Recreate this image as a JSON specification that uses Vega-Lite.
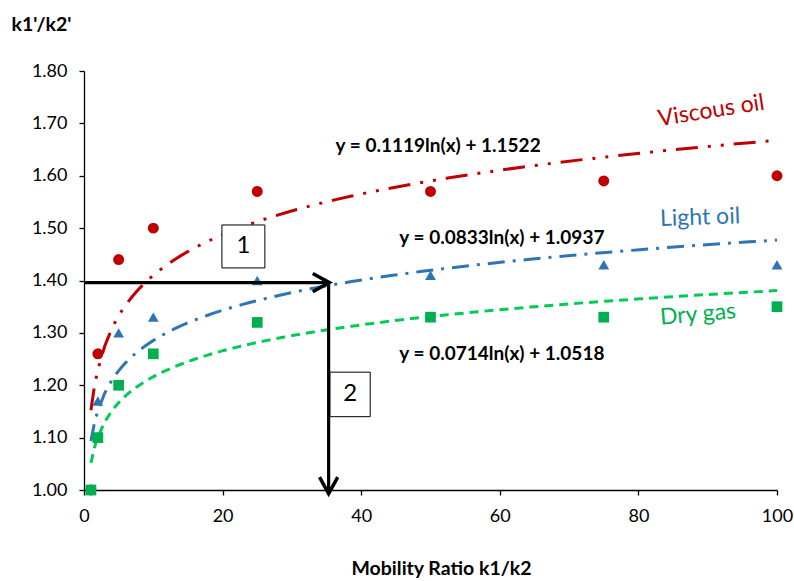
{
  "$schema": "https://vega.github.io/schema/vega-lite/v6.json",
  "width": 693,
  "height": 419,
  "autosize": "none",
  "padding": {"left": 84, "top": 71, "right": 17, "bottom": 91},
  "background": "white",
  "config": {
    "view": {"stroke": null},
    "font": "Lato",
    "axis": {"grid": false, "domainColor": "#000000", "tickColor": "#000000", "labelColor": "#000000", "titleColor": "#000000", "labelFont": "Lato", "titleFont": "Lato", "labelFontSize": 18, "titleFontSize": 19.5, "titleFontWeight": "bold", "tickSize": 5, "domainWidth": 1.3, "tickWidth": 1.3, "labelFlush": false}
  },
  "datasets": {
    "pts": [
      {"series": "Viscous oil", "x": 1, "y": 1.00},
      {"series": "Viscous oil", "x": 2, "y": 1.26},
      {"series": "Viscous oil", "x": 5, "y": 1.44},
      {"series": "Viscous oil", "x": 10, "y": 1.50},
      {"series": "Viscous oil", "x": 25, "y": 1.57},
      {"series": "Viscous oil", "x": 50, "y": 1.57},
      {"series": "Viscous oil", "x": 75, "y": 1.59},
      {"series": "Viscous oil", "x": 100, "y": 1.60},
      {"series": "Light oil", "x": 1, "y": 1.00},
      {"series": "Light oil", "x": 2, "y": 1.17},
      {"series": "Light oil", "x": 5, "y": 1.30},
      {"series": "Light oil", "x": 10, "y": 1.33},
      {"series": "Light oil", "x": 25, "y": 1.40},
      {"series": "Light oil", "x": 50, "y": 1.41},
      {"series": "Light oil", "x": 75, "y": 1.43},
      {"series": "Light oil", "x": 100, "y": 1.43},
      {"series": "Dry gas", "x": 1, "y": 1.00},
      {"series": "Dry gas", "x": 2, "y": 1.10},
      {"series": "Dry gas", "x": 5, "y": 1.20},
      {"series": "Dry gas", "x": 10, "y": 1.26},
      {"series": "Dry gas", "x": 25, "y": 1.32},
      {"series": "Dry gas", "x": 50, "y": 1.33},
      {"series": "Dry gas", "x": 75, "y": 1.33},
      {"series": "Dry gas", "x": 100, "y": 1.35}
    ],
    "arrows": [
      {"x": 0, "x2": 35.3, "y": 1.396, "y2": 1.396},
      {"x": 35.3, "x2": 35.3, "y": 1.396, "y2": 0.995}
    ],
    "boxes": [
      {"label": "1", "x": 19.9, "x2": 26.1, "y": 1.506, "y2": 1.424, "cx": 23.0, "cy": 1.465},
      {"label": "2", "x": 35.5, "x2": 41.3, "y": 1.225, "y2": 1.140, "cx": 38.4, "cy": 1.1825}
    ],
    "eqs": [
      {"t": "y = 0.1119ln(x) + 1.1522", "x": 51.1, "y": 1.657},
      {"t": "y = 0.0833ln(x) + 1.0937", "x": 60.3, "y": 1.482},
      {"t": "y = 0.0714ln(x) + 1.0518", "x": 60.3, "y": 1.260}
    ],
    "labels": [
      {"t": "Viscous oil", "x": 90.5, "y": 1.724, "c": "#C00000", "a": -9},
      {"t": "Light oil", "x": 88.9, "y": 1.520, "c": "#2E75B6", "a": -2},
      {"t": "Dry gas", "x": 88.6, "y": 1.335, "c": "#00B050", "a": -5}
    ]
  },
  "layer": [
    {
      "data": {"name": "pts"},
      "transform": [{"regression": "y", "on": "x", "groupby": ["series"], "method": "log"}],
      "mark": {"type": "line", "strokeWidth": 3, "clip": true},
      "encoding": {
        "x": {"field": "x", "type": "quantitative", "scale": {"domain": [0, 100]},
              "axis": {"values": [0, 20, 40, 60, 80, 100], "title": "Mobility Ratio k1/k2", "titleX": 357, "titleY": 84, "titleBaseline": "alphabetic", "labelPadding": 12}},
        "y": {"field": "y", "type": "quantitative", "scale": {"domain": [1, 1.8]},
              "axis": {"values": [1.0, 1.1, 1.2, 1.3, 1.4, 1.5, 1.6, 1.7, 1.8], "format": ".2f", "title": "k1'/k2'", "titleAngle": 0, "titleAlign": "left", "titleX": -73, "titleY": -41, "titleBaseline": "alphabetic", "labelPadding": 12}},
        "color": {"field": "series", "type": "nominal", "scale": {"domain": ["Viscous oil", "Light oil", "Dry gas"], "range": ["#C00000", "#2E75B6", "#00CC55"]}, "legend": null},
        "strokeDash": {"field": "series", "type": "nominal", "scale": {"domain": ["Viscous oil", "Light oil", "Dry gas"], "range": [[22, 10, 3, 10, 3, 10], [17, 8, 3, 8], [9, 6]]}, "legend": null},
        "detail": {"field": "series"}
      }
    },
    {
      "data": {"name": "pts"},
      "mark": {"type": "point", "filled": true, "opacity": 1},
      "encoding": {
        "x": {"field": "x", "type": "quantitative"},
        "y": {"field": "y", "type": "quantitative"},
        "fill": {"field": "series", "type": "nominal", "scale": {"domain": ["Viscous oil", "Light oil", "Dry gas"], "range": ["#C00000", "#2E75B6", "#00B050"]}, "legend": null},
        "shape": {"field": "series", "type": "nominal", "scale": {"domain": ["Viscous oil", "Light oil", "Dry gas"], "range": ["circle", "triangle-up", "square"]}, "legend": null},
        "size": {"field": "series", "type": "nominal", "scale": {"domain": ["Viscous oil", "Light oil", "Dry gas"], "range": [120, 115, 170]}, "legend": null}
      }
    },
    {
      "data": {"name": "arrows"},
      "mark": {"type": "rule", "color": "#000000", "strokeWidth": 3.2},
      "encoding": {
        "x": {"field": "x", "type": "quantitative"},
        "x2": {"field": "x2"},
        "y": {"field": "y", "type": "quantitative"},
        "y2": {"field": "y2"}
      }
    },
    {
      "data": {"values": [{"x": 35.4, "y": 1.396}]},
      "mark": {"type": "point", "shape": "M -1 -0.55 L 0 0 L -1 0.55", "filled": false, "stroke": "#000000", "strokeWidth": 3.5, "size": 1100, "opacity": 1},
      "encoding": {
        "x": {"field": "x", "type": "quantitative"},
        "y": {"field": "y", "type": "quantitative"}
      }
    },
    {
      "data": {"values": [{"x": 35.3, "y": 0.993}]},
      "mark": {"type": "point", "shape": "M -0.55 -1 L 0 0 L 0.55 -1", "filled": false, "stroke": "#000000", "strokeWidth": 3.5, "size": 1100, "opacity": 1},
      "encoding": {
        "x": {"field": "x", "type": "quantitative"},
        "y": {"field": "y", "type": "quantitative"}
      }
    },
    {
      "data": {"name": "boxes"},
      "mark": {"type": "rect", "fill": "white", "stroke": "#000000", "strokeWidth": 1},
      "encoding": {
        "x": {"field": "x", "type": "quantitative"},
        "x2": {"field": "x2"},
        "y": {"field": "y", "type": "quantitative"},
        "y2": {"field": "y2"}
      }
    },
    {
      "data": {"name": "boxes"},
      "mark": {"type": "text", "fontSize": 24, "color": "#000000", "baseline": "middle", "align": "center"},
      "encoding": {
        "x": {"field": "cx", "type": "quantitative"},
        "y": {"field": "cy", "type": "quantitative"},
        "text": {"field": "label"}
      }
    },
    {
      "data": {"name": "eqs"},
      "mark": {"type": "text", "fontSize": 19, "fontWeight": "bold", "color": "#000000", "baseline": "middle", "align": "center"},
      "encoding": {
        "x": {"field": "x", "type": "quantitative"},
        "y": {"field": "y", "type": "quantitative"},
        "text": {"field": "t"}
      }
    },
    {
      "data": {"name": "labels"},
      "mark": {"type": "text", "fontSize": 23, "baseline": "middle", "align": "center"},
      "encoding": {
        "x": {"field": "x", "type": "quantitative"},
        "y": {"field": "y", "type": "quantitative"},
        "text": {"field": "t"},
        "color": {"field": "c", "type": "nominal", "scale": null},
        "angle": {"field": "a", "type": "quantitative", "scale": null}
      }
    }
  ]
}
